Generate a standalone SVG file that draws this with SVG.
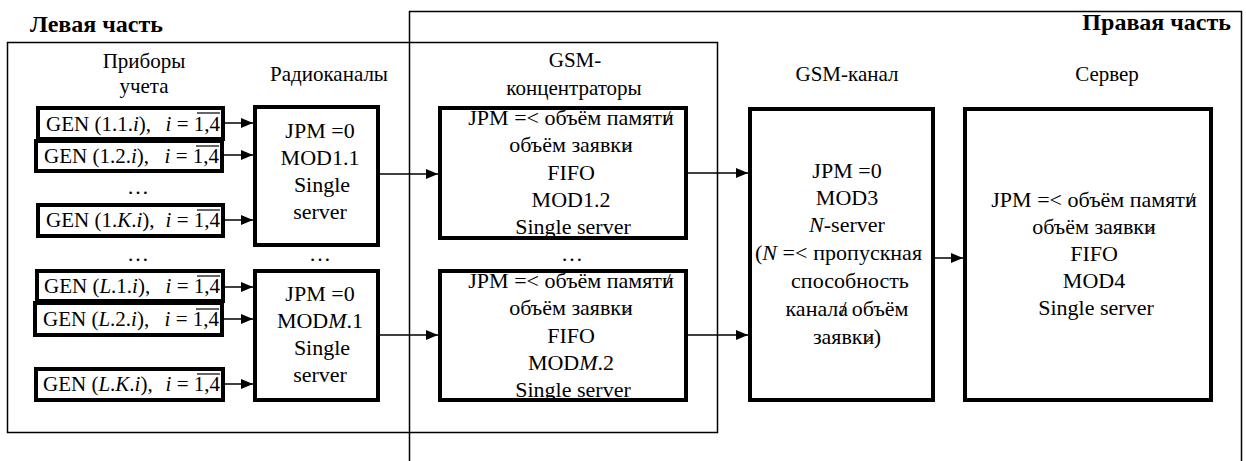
<svg xmlns="http://www.w3.org/2000/svg" width="1246" height="461" viewBox="0 0 1246 461" font-family="'Liberation Serif','Times New Roman',serif">
<defs>
<marker id="ah" viewBox="0 0 12 10" refX="12" refY="5" markerWidth="12" markerHeight="10" markerUnits="userSpaceOnUse" orient="auto"><path d="M0,0 L12,5 L0,10 z" fill="#000"/></marker>
<style>
.t{font-family:"Liberation Serif","Times New Roman",serif;font-size:22px;fill:#000}
.hd{font-size:21px}
.c{text-anchor:middle}
.r{text-anchor:end}
.h{font-weight:bold;font-size:24px}
.i{font-style:italic}
.n{fill:#fff;stroke:#000;stroke-width:4}
.g{fill:none;stroke:#000;stroke-width:1.5}
.e{stroke:#000;stroke-width:1.5;fill:none;marker-end:url(#ah)}
.ov{stroke:#000;stroke-width:1.2}
.gt{font-size:21px}
.sm{font-size:15px}
</style>
</defs>
<rect width="1246" height="461" fill="#fff"/>
<g id="left-part"><rect class="g" x="7.5" y="42.5" width="710" height="390"/><text class="t h" x="30" y="32">Левая часть</text></g>
<g id="right-part"><rect class="g" x="409.5" y="11.5" width="832" height="470"/><text class="t h r" x="1231" y="30">Правая часть</text></g>
<g id="headers">
<text class="t hd c" x="144" y="68">Приборы</text>
<text class="t hd c" x="144" y="93">учета</text>
<text class="t hd c" x="329" y="81">Радиоканалы</text>
<text class="t hd c" x="575" y="67">GSM-</text>
<text class="t hd c" x="574" y="95">концентраторы</text>
<text class="t hd c" x="847" y="81">GSM-канал</text>
<text class="t hd c" x="1107" y="81">Сервер</text>
</g>
<g id="ellipses">
<text class="t c" x="138" y="194">…</text>
<text class="t c" x="138" y="261">…</text>
<text class="t c" x="320" y="261">…</text>
<text class="t c" x="572" y="261">…</text>
</g>
<g id="gen-1-1"><rect class="n" x="38" y="108" width="185" height="31"/><text class="t gt" x="46" y="130.5">GEN (1.1.<tspan class="i">i</tspan>),</text><text class="t gt r" x="220" y="130.5"><tspan class="i">i</tspan> = 1,4</text><line class="ov" x1="197" y1="113" x2="220" y2="113"/></g>
<g id="gen-1-2"><rect class="n" x="36" y="141" width="186" height="30"/><text class="t gt" x="44" y="163">GEN (1.2.<tspan class="i">i</tspan>),</text><text class="t gt r" x="219" y="163"><tspan class="i">i</tspan> = 1,4</text><line class="ov" x1="196" y1="146" x2="219" y2="146"/></g>
<g id="gen-1-K"><rect class="n" x="38" y="205" width="185" height="31"/><text class="t gt" x="46" y="227">GEN (1.<tspan class="i">K</tspan>.<tspan class="i">i</tspan>),</text><text class="t gt r" x="220" y="227"><tspan class="i">i</tspan> = 1,4</text><line class="ov" x1="197" y1="210" x2="220" y2="210"/></g>
<g id="gen-L-1"><rect class="n" x="37" y="271" width="186" height="30"/><text class="t gt" x="44" y="293">GEN (<tspan class="i">L</tspan>.1.<tspan class="i">i</tspan>),</text><text class="t gt r" x="220" y="293"><tspan class="i">i</tspan> = 1,4</text><line class="ov" x1="197" y1="276" x2="220" y2="276"/></g>
<g id="gen-L-2"><rect class="n" x="35" y="303" width="187" height="32"/><text class="t gt" x="43" y="326">GEN (<tspan class="i">L</tspan>.2.<tspan class="i">i</tspan>),</text><text class="t gt r" x="219" y="326"><tspan class="i">i</tspan> = 1,4</text><line class="ov" x1="196" y1="309" x2="219" y2="309"/></g>
<g id="gen-L-K"><rect class="n" x="36" y="369" width="187" height="31"/><text class="t gt" x="43" y="391">GEN (<tspan class="i">L</tspan>.<tspan class="i">K</tspan>.<tspan class="i">i</tspan>),</text><text class="t gt r" x="220" y="391"><tspan class="i">i</tspan> = 1,4</text><line class="ov" x1="197" y1="374" x2="220" y2="374"/></g>
<g id="radio-1"><rect class="n" x="255" y="107" width="123" height="138"/>
<text class="t c" x="320" y="138">JPM =0</text><text class="t c" x="320" y="165">MOD1.1</text><text class="t c" x="322" y="192">Single</text><text class="t c" x="320" y="219">server</text></g>
<g id="radio-M"><rect class="n" x="255" y="271" width="123" height="129"/>
<text class="t c" x="320" y="301">JPM =0</text><text class="t c" x="320" y="328">MOD<tspan class="i">M</tspan>.1</text><text class="t c" x="322" y="355">Single</text><text class="t c" x="320" y="382">server</text></g>
<g id="conc-1"><rect class="n" x="440" y="108" width="246" height="130"/>
<text class="t c" x="571" y="125">JPM =&lt; объём памяти<tspan dx="-9">/</tspan></text>
<text class="t c" x="571" y="152">объём заявки<tspan class="sm" dx="-9">&gt;</tspan></text>
<text class="t c" x="571" y="180">FIFO</text>
<text class="t c" x="571" y="207">MOD1.2</text>
<text class="t c" x="573" y="234">Single server</text></g>
<g id="conc-M"><rect class="n" x="440" y="271" width="246" height="129"/>
<text class="t c" x="571" y="288">JPM =&lt; объём памяти<tspan dx="-9">/</tspan></text>
<text class="t c" x="571" y="315">объём заявки<tspan class="sm" dx="-9">&gt;</tspan></text>
<text class="t c" x="571" y="343">FIFO</text>
<text class="t c" x="571" y="370">MOD<tspan class="i">M</tspan>.2</text>
<text class="t c" x="573" y="397">Single server</text></g>
<g id="gsm-channel"><rect class="n" x="750" y="109" width="183" height="291"/>
<text class="t c" x="847" y="178">JPM =0</text>
<text class="t c" x="847" y="205">MOD3</text>
<text class="t c" x="847" y="232"><tspan class="i">N</tspan>-server</text>
<text class="t" x="755" y="260">(<tspan class="i">N</tspan> =&lt;<tspan dx="6">пропускная</tspan></text>
<text class="t c" x="850" y="288">способность</text>
<text class="t c" x="847" y="316">канала<tspan dx="-8">/</tspan> объём</text>
<text class="t c" x="847" y="344">заявки<tspan class="sm" dx="-9">&gt;</tspan>)</text></g>
<g id="server"><rect class="n" x="965" y="109" width="246" height="291"/>
<text class="t c" x="1094" y="207">JPM =&lt; объём памяти<tspan dx="-9">/</tspan></text>
<text class="t c" x="1094" y="234">объём заявки<tspan class="sm" dx="-9">&gt;</tspan></text>
<text class="t c" x="1094" y="261">FIFO</text>
<text class="t c" x="1094" y="288">MOD4</text>
<text class="t c" x="1096" y="315">Single server</text></g>
<g id="connectors">
<line class="e" x1="225" y1="123" x2="253" y2="123"/>
<line class="e" x1="224" y1="155" x2="253" y2="155"/>
<line class="e" x1="225" y1="220" x2="253" y2="220"/>
<line class="e" x1="225" y1="287" x2="253" y2="287"/>
<line class="e" x1="224" y1="319" x2="253" y2="319"/>
<line class="e" x1="225" y1="384" x2="253" y2="384"/>
<line class="e" x1="380" y1="174" x2="438" y2="174"/>
<line class="e" x1="380" y1="335" x2="438" y2="335"/>
<line class="e" x1="688" y1="173" x2="748" y2="173"/>
<line class="e" x1="688" y1="335" x2="748" y2="335"/>
<line class="e" x1="935" y1="258" x2="963" y2="258"/>
</g>
</svg>
